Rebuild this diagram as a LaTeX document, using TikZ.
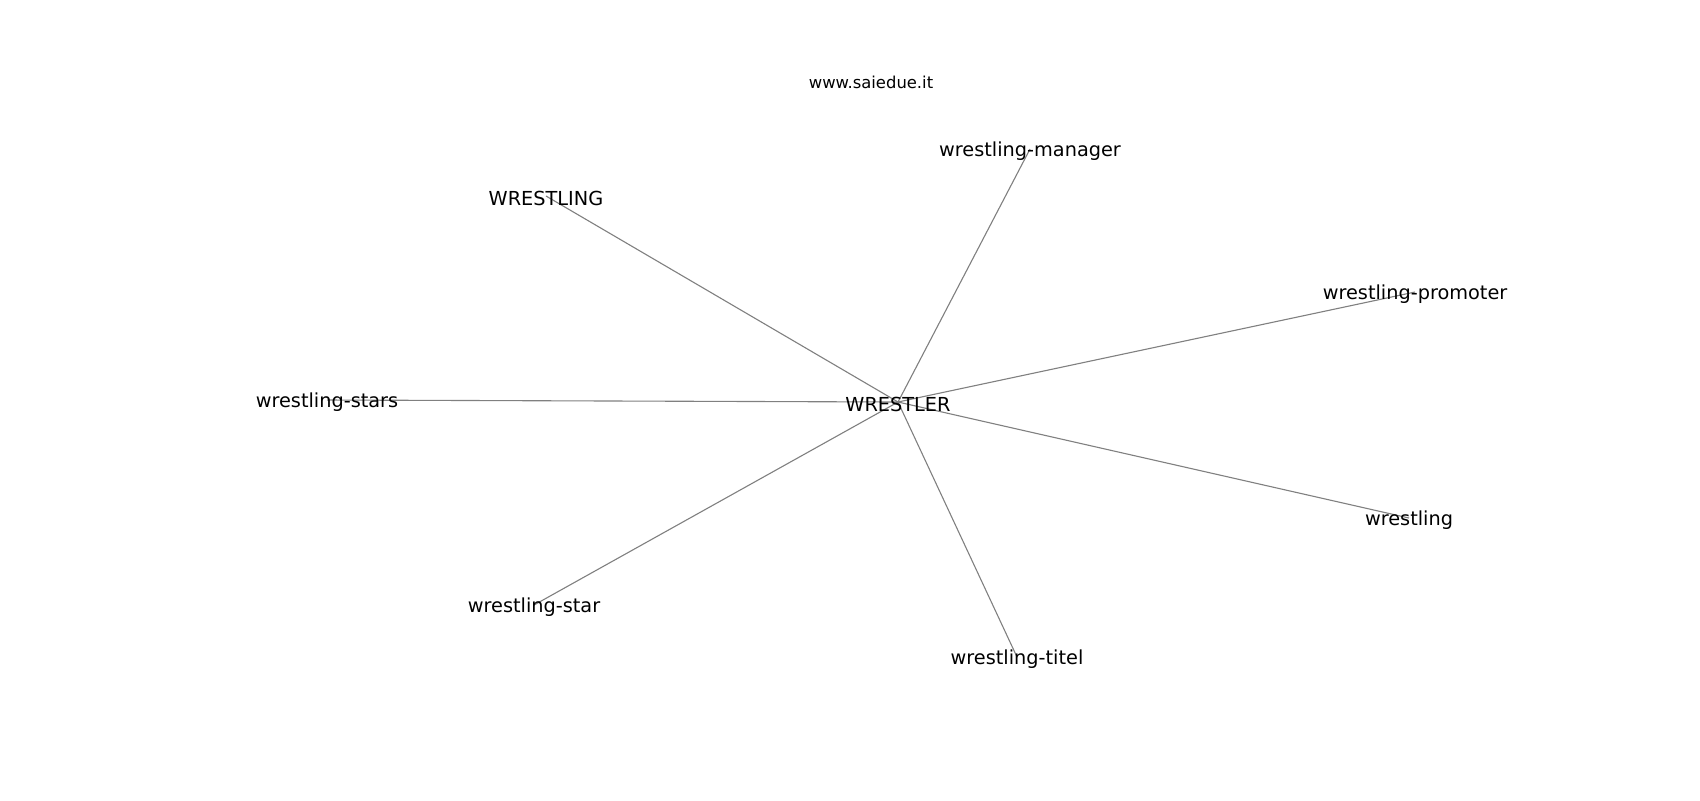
\documentclass[tikz,border=0pt]{standalone}
\usepackage{fontspec}
\setmainfont{DejaVu Sans}
\begin{document}
\begin{tikzpicture}[x=0.5pt,y=-0.5pt,
  lbl/.style={inner sep=0pt,yshift=-1pt,font=\fontsize{9.65pt}{11pt}\selectfont,text=black},
  edge/.style={draw=black!50,line width=0.55pt}]
\useasboundingbox[fill=white] (0,0) rectangle (1700,800);
\coordinate (c0) at (898,402);
\coordinate (c1) at (1030,149);
\coordinate (c2) at (546,196);
\coordinate (c3) at (1415,292);
\coordinate (c4) at (327,400);
\coordinate (c5) at (1409,518);
\coordinate (c6) at (534,605);
\coordinate (c7) at (1017,657);
\foreach \i in {1,...,7} \draw[edge] (c0) -- (c\i);
\node[lbl] (n0) at (c0) {WRESTLER};
\node[lbl] (n1) at (c1) {wrestling-manager};
\node[lbl] (n2) at (c2) {WRESTLING};
\node[lbl] (n3) at (c3) {wrestling-promoter};
\node[lbl] (n4) at (c4) {wrestling-stars};
\node[lbl] (n5) at (c5) {wrestling};
\node[lbl] (n6) at (c6) {wrestling-star};
\node[lbl] (n7) at (c7) {wrestling-titel};
\node[inner sep=0pt,font=\fontsize{8.2pt}{10pt}\selectfont] (title) at (871,82) {www.saiedue.it};
\end{tikzpicture}
\end{document}
